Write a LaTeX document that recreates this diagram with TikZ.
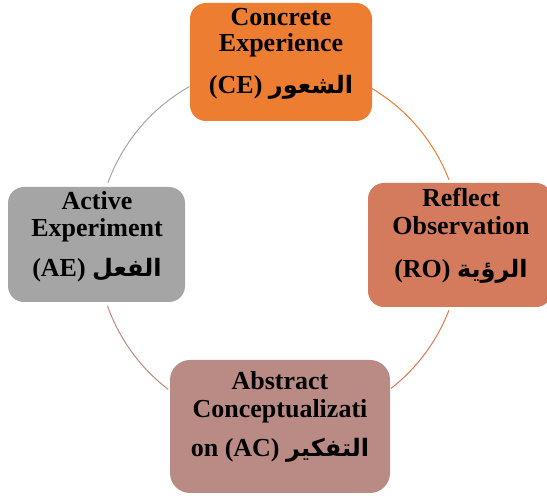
\documentclass[tikz,border=0pt]{standalone}
\usepackage{fontspec}
\setmainfont{Liberation Serif}
\newfontfamily\arabicfont[Script=Arabic]{DejaVu Sans}
\TeXXeTstate=1
\definecolor{ceC}{HTML}{ED7D31}
\definecolor{roC}{HTML}{D47B5D}
\definecolor{acC}{HTML}{BA8B85}
\definecolor{aeC}{HTML}{A5A5A5}
\definecolor{arcRO}{HTML}{DA7A52}
\definecolor{arcAC}{HTML}{BE8A82}
\newcommand{\ar}[1]{{\arabicfont\fontsize{24}{24}\selectfont\beginR #1\endR}}
\begin{document}
\begin{tikzpicture}[x=1pt,y=1pt,
  box/.style={rectangle, rounded corners=16pt, draw=none, inner sep=0pt},
  lbl/.style={anchor=base, inner sep=0pt, font=\fontsize{26}{26}\selectfont\bfseries},
  cyc/.style={line width=1pt}]
\useasboundingbox (0,0) rectangle (547,496);
\clip (0,0) rectangle (547,496);
\fill[white] (0,0) rectangle (547,496);
% circle centre
\coordinate (o) at (279,251);
% arcs
\draw[cyc, ceC] ([shift={(59.5:182)}]o) arc[start angle=59.5, end angle=21, radius=182];
\draw[cyc, arcRO] ([shift={(-21:182)}]o) arc[start angle=-21, end angle=-52, radius=182];
\draw[cyc, arcAC] ([shift={(-127.5:182)}]o) arc[start angle=-127.5, end angle=-160.5, radius=182];
\draw[cyc, aeC] ([shift={(160:182)}]o) arc[start angle=160, end angle=119.5, radius=182];
% boxes
\node[box, fill=ceC, minimum width=182pt, minimum height=118pt] (ce) at (281,434) {};
\node[box, fill=roC, minimum width=184pt, minimum height=124pt] (ro) at (460,251) {};
\node[box, fill=acC, minimum width=220pt, minimum height=133pt, rounded corners=20pt] (ac) at (280,69.5) {};
\node[box, fill=aeC, minimum width=177pt, minimum height=115pt] (ae) at (96.5,251.5) {};
% texts
\node[lbl] (ce1) at (281,470) {Concrete};
\node[lbl] (ce2) at (281,444) {Experience};
\node[lbl] (ce3) at (281,402) {(CE) \ar{الشعور}};
\node[lbl] (ro1) at (461,289) {Reflect};
\node[lbl] (ro2) at (461,261) {Observation};
\node[lbl] (ro3) at (461,218) {(RO) \ar{الرؤية}};
\node[lbl] (ac1) at (280,106) {Abstract};
\node[lbl] (ac2) at (280,78) {Conceptualizati};
\node[lbl] (ac3) at (280,39) {on (AC) \ar{التفكير}};
\node[lbl] (ae1) at (97,286) {Active};
\node[lbl] (ae2) at (97,259) {Experiment};
\node[lbl] (ae3) at (97,219) {(AE) \ar{الفعل}};
\end{tikzpicture}
\end{document}
